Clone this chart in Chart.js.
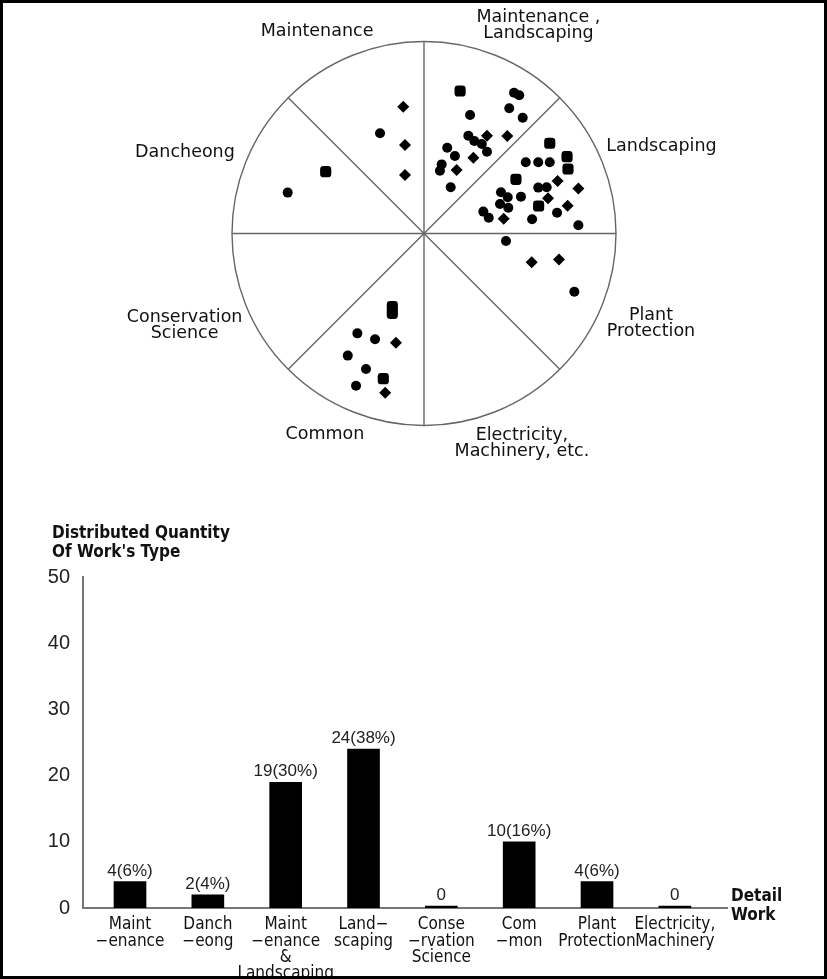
<!DOCTYPE html>
<html>
<head>
<meta charset="utf-8">
<script src="https://cdn.jsdelivr.net/npm/chart.js@4.4.1/dist/chart.umd.min.js"></script>
<style>
  body { margin: 0; background: #fff; }
  #page { position: relative; width: 827px; height: 979px; overflow: hidden; background: #fff; }
  #page canvas { position: absolute; left: 0; }
  #pie { top: 0; }
  #bars { top: 480px; }
  #frame { position: absolute; left: 0; top: 0; right: 0; bottom: 0; border: 3px solid #000; box-sizing: border-box; pointer-events: none; }
</style>
</head>
<body>
<div id="page">
  <canvas id="pie" width="827" height="480"></canvas>
  <canvas id="bars" width="827" height="499"></canvas>
  <div id="frame"></div>
</div>
<script>
// ---- circle diagram: sector names and dots (circle radius = 100) ----
const sectorNames = [
  ["Maintenance"],
  ["Maintenance ,", "Landscaping"],
  ["Landscaping"],
  ["Plant", "Protection"],
  ["Electricity,", "Machinery, etc."],
  ["Common"],
  ["Conservation", "Science"],
  ["Dancheong"]
];

const circleDots = [
  [-22.9, 52.2],
  [-71.0, 21.3],
  [46.9, 73.3], [49.6, 72.0], [24.0, 61.7], [44.4, 65.2], [51.4, 60.3], [23.1, 50.9],
  [26.2, 48.2], [30.1, 46.6], [32.8, 42.6], [12.1, 44.7], [16.1, 40.4], [9.2, 36.0],
  [8.3, 32.7], [13.9, 24.1],
  [53.0, 37.1], [59.5, 37.1], [65.5, 37.1], [59.5, 23.9], [63.9, 24.1], [40.1, 21.5],
  [43.6, 18.9], [50.5, 19.2], [39.6, 15.4], [43.9, 13.4], [30.9, 11.4], [33.7, 8.2],
  [56.3, 7.4], [69.3, 10.8], [80.4, 4.3],
  [42.7, -3.9], [78.3, -30.3],
  [-34.7, -52.0], [-25.5, -55.1], [-39.7, -63.6], [-30.2, -70.6], [-35.4, -79.3]
];
const squareDots = [
  [-51.2, 32.2],
  [18.8, 74.2],
  [65.5, 47.0], [74.5, 40.0], [75.0, 33.6], [47.9, 28.2], [59.7, 14.3],
  [-16.5, -38.1], [-16.5, -41.6], [-21.2, -75.6]
];
const diamondDots = [
  [-10.8, 66.0], [-9.9, 46.1], [-9.9, 30.5],
  [43.4, 50.8], [32.8, 50.9], [25.7, 39.5], [17.0, 33.1],
  [69.6, 27.3], [80.4, 23.5], [64.6, 18.3], [74.8, 14.5], [41.5, 7.7],
  [56.1, -15.0], [70.3, -13.6],
  [-14.6, -56.9], [-20.2, -82.9]
];

// ---- bar chart ----
const workTypes = [
  ["Maint", "\u2212enance"],
  ["Danch", "\u2212eong"],
  ["Maint", "\u2212enance", "&", "Landscaping"],
  ["Land\u2212", "scaping"],
  ["Conse", "\u2212rvation", "Science"],
  ["Com", "\u2212mon"],
  ["Plant", "Protection"],
  ["Electricity,", "Machinery"]
];
const workCounts = [4, 2, 19, 24, 0, 10, 4, 0];
const workShares = [6, 4, 30, 38, 0, 16, 6, 0];
const yTicks = [0, 10, 20, 30, 40, 50];

// layout (not data): where the sector names sit, in circle units
const sectorLabelAt = [
  [-55.7, 105.1], [59.6, 108.3], [123.7, 45.2], [118.2, -46.6],
  [51.0, -109.3], [-51.6, -104.9], [-124.7, -47.7], [-124.5, 42.1]
];

const geoFont = "'DejaVu Sans', 'Liberation Sans', sans-serif";
const condFont = "'DejaVu Sans Condensed', 'Liberation Sans Narrow', 'DejaVu Sans', sans-serif";
const arialFont = "'Liberation Sans', Arial, sans-serif";

const toPts = (arr) => arr.map(([x, y]) => ({ x: x, y: y }));

const circleFrame = {
  id: 'circleFrame',
  beforeDatasetsDraw(chart) {
    const { ctx, scales: { x, y } } = chart;
    const cx = x.getPixelForValue(0);
    const cy = y.getPixelForValue(0);
    const r = x.getPixelForValue(100) - cx;
    ctx.save();
    ctx.strokeStyle = '#666';
    ctx.lineWidth = 1.4;
    ctx.beginPath();
    ctx.arc(cx, cy, r, 0, Math.PI * 2);
    ctx.stroke();
    for (let k = 0; k < 4; k++) {
      const a = k * Math.PI / 4;
      ctx.beginPath();
      ctx.moveTo(cx - r * Math.cos(a), cy + r * Math.sin(a));
      ctx.lineTo(cx + r * Math.cos(a), cy - r * Math.sin(a));
      ctx.stroke();
    }
    ctx.restore();
  },
  afterDraw(chart) {
    const { ctx, scales: { x, y } } = chart;
    ctx.save();
    ctx.font = '17.5px ' + geoFont;
    ctx.fillStyle = '#111';
    ctx.textAlign = 'center';
    ctx.textBaseline = 'middle';
    sectorNames.forEach((lines, i) => {
      const px = x.getPixelForValue(sectorLabelAt[i][0]);
      const py = y.getPixelForValue(sectorLabelAt[i][1]);
      lines.forEach((t, k) => {
        ctx.fillText(t, px, py + (k - (lines.length - 1) / 2) * 16);
      });
    });
    ctx.restore();
  }
};

new Chart(document.getElementById('pie'), {
  type: 'scatter',
  data: {
    datasets: [
      { data: toPts(circleDots), pointStyle: 'circle', pointRadius: 5 },
      { data: toPts(squareDots), pointStyle: 'rectRounded', pointRadius: 6.5 },
      { data: toPts(diamondDots), pointStyle: 'rectRot', pointRadius: 6 }
    ]
  },
  options: {
    responsive: false,
    animation: false,
    elements: { point: { backgroundColor: '#000', borderColor: '#000', borderWidth: 0 } },
    layout: { padding: { left: 232, right: 211, top: 41.5, bottom: 54.5 } },
    scales: {
      x: { type: 'linear', min: -100, max: 100, display: false },
      y: { type: 'linear', min: -100, max: 100, display: false }
    },
    plugins: { legend: { display: false }, tooltip: { enabled: false } }
  },
  plugins: [circleFrame]
});

const barText = {
  id: 'barText',
  afterDatasetsDraw(chart) {
    const { ctx, chartArea } = chart;
    const meta = chart.getDatasetMeta(0);
    ctx.save();
    ctx.fillStyle = '#222';
    ctx.textAlign = 'center';
    ctx.textBaseline = 'bottom';
    ctx.font = '17px ' + arialFont;
    meta.data.forEach((bar, i) => {
      const t = workCounts[i] ? workCounts[i] + '(' + workShares[i] + '%)' : '0';
      ctx.fillText(t, bar.x, bar.y - 2);
    });
    // axis titles
    ctx.fillStyle = '#111';
    ctx.textAlign = 'left';
    ctx.textBaseline = 'middle';
    ctx.font = 'bold 17px ' + condFont;
    ctx.fillText('Distributed Quantity', chartArea.left - 31, chartArea.top - 43);
    ctx.fillText("Of Work's Type", chartArea.left - 31, chartArea.top - 24.5);
    ctx.fillText('Detail', chartArea.right + 4, chartArea.bottom - 11);
    ctx.fillText('Work', chartArea.right + 4, chartArea.bottom + 8);
    ctx.restore();
  }
};

new Chart(document.getElementById('bars'), {
  type: 'bar',
  data: {
    datasets: [{
      data: workCounts.map((v, i) => ({ x: i, y: v })),
      backgroundColor: '#000',
      barThickness: 32,
      minBarLength: 2
    }]
  },
  options: {
    responsive: false,
    animation: false,
    layout: { padding: { left: 0, right: 100, top: 97, bottom: 0 } },
    scales: {
      x: {
        type: 'linear',
        offset: false,
        min: -0.604,
        max: 7.67,
        grid: { display: false },
        border: { color: '#777', width: 2 },
        afterBuildTicks: (axis) => { axis.ticks = workTypes.map((_, i) => ({ value: i })); },
        afterFit: (s) => { s.height = 71; },
        ticks: {
          autoSkip: false,
          maxRotation: 0,
          padding: 1,
          color: '#111',
          font: { family: condFont, size: 17, lineHeight: 0.95 },
          callback: (v) => workTypes[v]
        }
      },
      y: {
        min: 0,
        max: 50,
        grid: { display: false },
        border: { color: '#777', width: 2 },
        afterBuildTicks: (axis) => { axis.ticks = yTicks.map((v) => ({ value: v })); },
        afterFit: (s) => { s.width = 83; },
        ticks: { padding: 5, color: '#222', font: { family: arialFont, size: 20 } }
      }
    },
    plugins: { legend: { display: false }, tooltip: { enabled: false } }
  },
  plugins: [barText]
});
</script>
</body>
</html>
